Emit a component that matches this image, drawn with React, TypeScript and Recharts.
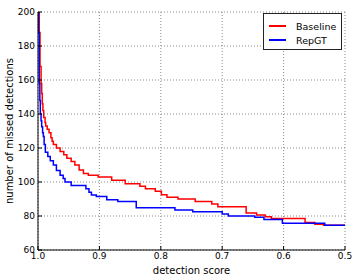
import React from 'react';
import { LineChart, Line, XAxis, YAxis, CartesianGrid, Legend } from 'recharts';

// detection score threshold (x) and number of missed detections (y)
const baselineScores = [
  0.999, 0.998, 0.9967, 0.995, 0.994, 0.993, 0.992, 0.9907, 0.9885, 0.9875, 0.985, 0.982,
  0.979, 0.977, 0.975, 0.97, 0.964, 0.958, 0.953, 0.946, 0.94, 0.933, 0.926, 0.918, 0.902,
  0.88, 0.858, 0.834, 0.825, 0.809, 0.799, 0.79, 0.772, 0.744, 0.717, 0.707, 0.661, 0.644,
  0.63, 0.62, 0.565, 0.549, 0.535, 0.5,
];
const baselineMissed = [
  200, 188, 168, 158, 152, 146, 142, 138, 135, 133, 131, 129,
  126, 124, 122, 120, 118, 116, 114, 112, 110, 107, 105, 104, 103,
  101, 99, 97.5, 96, 94.5, 92.5, 91, 90, 88.5, 87, 85.5, 81.8, 80.6,
  79.5, 78.5, 76.2, 75.2, 74.5, 74.5,
];

const repgtScores = [
  0.9995, 0.999, 0.998, 0.997, 0.9962, 0.995, 0.994, 0.9925, 0.9913, 0.99, 0.988, 0.984,
  0.98, 0.975, 0.97, 0.964, 0.959, 0.956, 0.946, 0.922, 0.917, 0.913, 0.905, 0.888, 0.87,
  0.84, 0.777, 0.748, 0.7, 0.69, 0.647, 0.632, 0.602, 0.533, 0.5,
];
const repgtMissed = [
  200, 188, 158, 148, 140, 136, 132.5, 129, 126.7, 122, 117.5, 115,
  112.5, 110, 106.7, 104, 102, 100, 98, 96, 94, 92.4, 91.4, 89.5, 88.5,
  84.8, 83.5, 82.5, 81.2, 80, 79.2, 78, 75.8, 74.5, 74.5,
];

const xTicks = [1.0, 0.9, 0.8, 0.7, 0.6, 0.5];
const yTicks = [60, 80, 100, 120, 140, 160, 180, 200];

const seriesNames = ['Baseline', 'RepGT'];
const seriesColors = ['#ff0000', '#0000ff'];

const toPoints = (xs: number[], ys: number[]) => xs.map((s, i) => ({ score: s, missed: ys[i] }));
const baselineData = toPoints(baselineScores, baselineMissed);
const repgtData = toPoints(repgtScores, repgtMissed);

const FONT = '"DejaVu Sans", sans-serif';

const LegendBox = () => (
  <div
    style={{
      width: 77,
      height: 35,
      border: '1px solid #222',
      background: '#fff',
      fontFamily: FONT,
      fontSize: 9.5,
      position: 'relative',
    }}
  >
    {seriesNames.map((name, i) => (
      <div
        key={name}
        style={{ position: 'absolute', left: 0, top: 5 + i * 14, height: 14, display: 'flex', alignItems: 'center' }}
      >
        <span style={{ display: 'inline-block', marginLeft: 5, width: 17, height: 1.6, background: seriesColors[i] }} />
        <span style={{ marginLeft: 10, color: '#000' }}>{name}</span>
      </div>
    ))}
  </div>
);

export default function App() {
  const tickStyle = { fontSize: 9, fill: '#000', fontFamily: FONT };
  return (
    <div style={{ position: 'absolute', left: 0, top: 0, background: '#fff' }}>
      <LineChart width={362} height={278} margin={{ top: 12, right: 17, bottom: 0, left: 0 }}>
        <CartesianGrid stroke="#8a8a8a" strokeDasharray="1 2" />
        <XAxis
          dataKey="score"
          type="number"
          domain={[0.5, 1.0]}
          reversed
          ticks={xTicks}
          tickFormatter={(v: number) => v.toFixed(1)}
          height={28}
          tickSize={-4}
          tickMargin={7}
          interval={0}
          allowDataOverflow
          stroke="#000"
          tick={tickStyle}
          label={{ value: 'detection score', position: 'insideBottom', offset: 4, style: { fontSize: 10, fill: '#000', fontFamily: FONT } }}
        />
        <XAxis
          xAxisId="top"
          orientation="top"
          type="number"
          domain={[0.5, 1.0]}
          reversed
          ticks={xTicks}
          height={0}
          tickSize={-4}
          tick={false}
          stroke="#000"
        />
        <YAxis
          type="number"
          domain={[60, 200]}
          ticks={yTicks}
          width={38}
          tickSize={-4}
          tickMargin={7}
          interval={0}
          allowDataOverflow
          stroke="#000"
          tick={tickStyle}
          label={{
            value: 'number of missed detections',
            angle: -90,
            position: 'insideLeft',
            offset: 9,
            style: { fontSize: 10, fill: '#000', fontFamily: FONT, textAnchor: 'middle' },
          }}
        />
        <YAxis
          yAxisId="right"
          orientation="right"
          type="number"
          domain={[60, 200]}
          ticks={yTicks}
          width={0}
          tickSize={-4}
          tick={false}
          stroke="#000"
        />
        <Legend
          layout="vertical"
          align="center"
          verticalAlign="middle"
          wrapperStyle={{ left: 263, top: 13, width: 79 }}
          content={() => <LegendBox />}
        />
        <Line
          data={baselineData}
          dataKey="missed"
          name={seriesNames[0]}
          type="stepAfter"
          stroke={seriesColors[0]}
          strokeWidth={1.5}
          dot={false}
          isAnimationActive={false}
        />
        <Line
          data={repgtData}
          dataKey="missed"
          name={seriesNames[1]}
          type="stepAfter"
          stroke={seriesColors[1]}
          strokeWidth={1.5}
          dot={false}
          isAnimationActive={false}
        />
      </LineChart>
    </div>
  );
}
